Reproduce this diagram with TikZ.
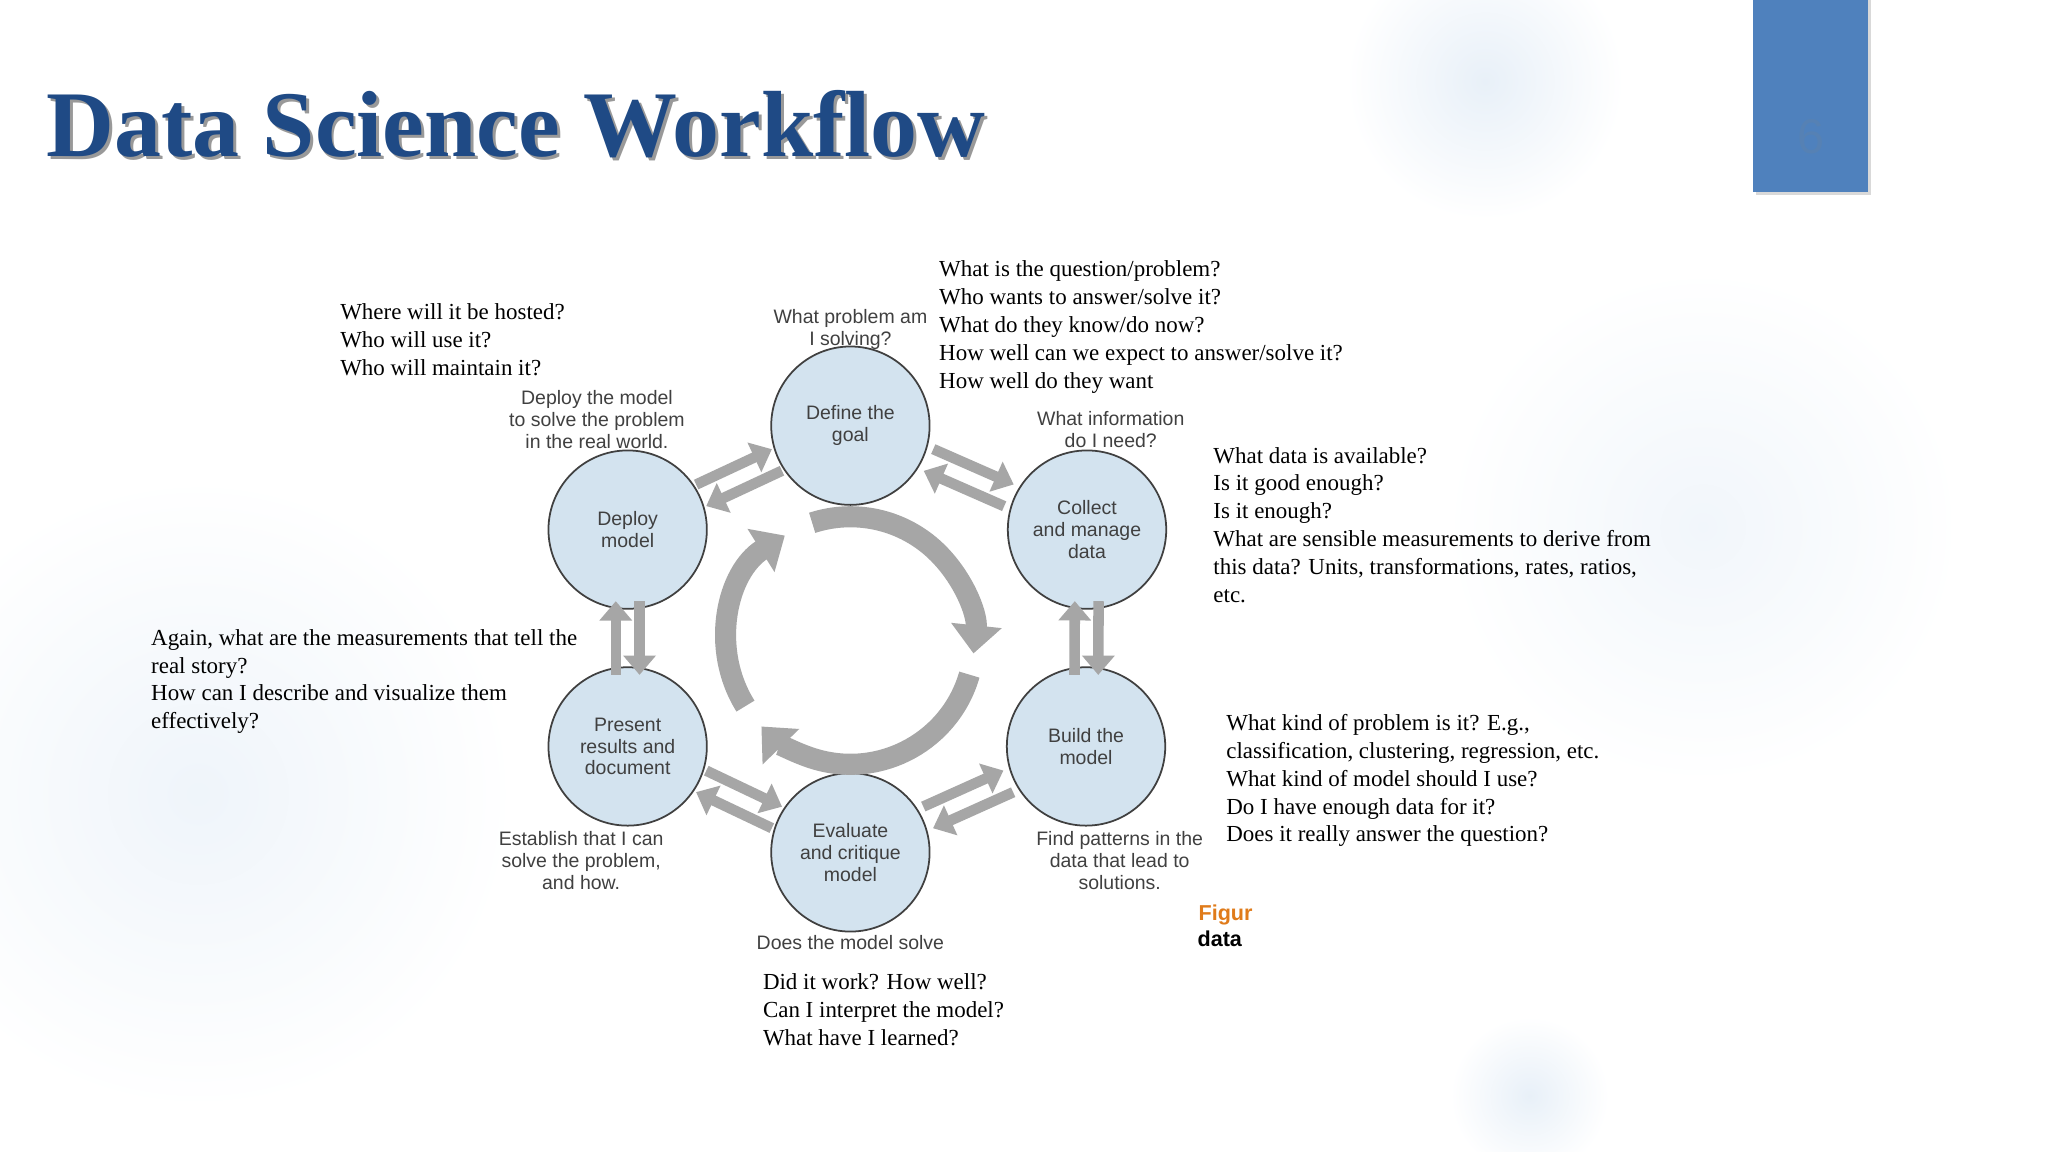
\documentclass[tikz,border=0pt]{standalone}
\usepackage{fontspec}
\setmainfont{Liberation Serif}
\newfontfamily\arialf{Liberation Sans}
\usetikzlibrary{arrows.meta,calc}
\definecolor{titleblue}{HTML}{1F4A85}
\definecolor{boxblue}{HTML}{4F81BD}
\definecolor{circfill}{HTML}{D3E3EF}
\definecolor{ringgray}{HTML}{A6A6A6}
\definecolor{blob}{HTML}{E8F0F8}
\definecolor{figorange}{HTML}{E07B1A}
\tikzset{
  stage/.style={circle,draw=black!75,line width=0.5pt,fill=circfill,minimum size=1.6cm,inner sep=0pt,align=center,font=\arialf\fontsize{5.6}{6.3}\selectfont,text=black!75},
  glabel/.style={align=center,font=\arialf\fontsize{5.6}{6.3}\selectfont,text=black!75},
  note/.style={anchor=north west,align=left,font=\fontsize{6.6}{8}\selectfont,inner sep=0pt},
  darr/.style={draw=ringgray,line width=3pt,-{Triangle[length=5.5pt,width=9pt]}},
  ringarr/.style={draw=ringgray,line width=6pt,-{Triangle[length=8pt,width=14pt]}}
}
\begin{document}
\begin{tikzpicture}
\useasboundingbox (0,0) rectangle (20.48,11.52);
\fill[white] (0,0) rectangle (20.48,11.52);
\begin{scope}[shift={(0,0.1152)},scale=0.99,transform shape]
% faint background blobs
\shade[inner color=blob,outer color=white] (15.0,10.7) circle (1.4);
\shade[inner color=blob!70,outer color=white] (2.0,3.5) circle (3.2);
\shade[inner color=blob!60,outer color=white] (17.2,6.2) circle (2.6);
\shade[inner color=blob,outer color=white] (15.45,0.45) circle (0.8);
% title
\node[anchor=base west,text=black!40,font=\bfseries\fontsize{27}{30}\selectfont,inner sep=0pt] at (0.49,9.91) {Data Science Workflow};
\node[anchor=base west,text=titleblue,font=\bfseries\fontsize{27}{30}\selectfont,inner sep=0pt] (title) at (0.46,9.94) {Data Science Workflow};
% page number box
\fill[black!15] (17.74,9.55) rectangle (18.90,11.52);
\fill[boxblue] (17.71,9.58) rectangle (18.87,11.52);
\node[text=boxblue!85!gray,font=\arialf\fontsize{14}{16}\selectfont] (pg) at (18.29,10.14) {6};
% stages
\node[stage] (g) at (8.59,7.22) {Define the\\goal};
\node[stage] (c) at (10.98,6.17) {Collect\\and manage\\data};
\node[stage] (b) at (10.97,3.98) {Build the\\model};
\node[stage] (e) at (8.59,2.91) {Evaluate\\and critique\\model};
\node[stage] (p) at (6.34,3.98) {Present\\results and\\document};
\node[stage] (d) at (6.34,6.17) {Deploy\\model};
% double arrows
\foreach \a/\b in {g/c,c/b,b/e,e/p,p/d,d/g}{
  \draw[darr] ($(\a)!0.33!(\b)!0.12cm!90:(\b)$) -- ($(\a)!0.67!(\b)!0.12cm!90:(\b)$);
  \draw[darr] ($(\a)!0.67!(\b)!0.12cm!-90:(\b)$) -- ($(\a)!0.33!(\b)!0.12cm!-90:(\b)$);
}
% central ring
\coordinate (rc) at (8.59,5.05);
\draw[ringarr] ($(rc)+(108:1.25)$) arc[start angle=108,end angle=-6,radius=1.25];
\draw[ringarr] ($(rc)+(-16:1.25)$) arc[start angle=-16,end angle=-136,radius=1.25];
\draw[ringarr] ($(rc)+(-148:1.25)$) arc[start angle=212,end angle=122,radius=1.25];
% gray labels
\node[glabel] (lg) at (8.59,8.19) {What problem am\\I solving?};
\node[glabel] (lc) at (11.22,7.18) {What information\\do I need?};
\node[glabel] (ld) at (6.03,7.28) {Deploy the model\\to solve the problem\\in the real world.};
\node[glabel] (lp) at (5.87,2.83) {Establish that I can\\solve the problem,\\and how.};
\node[glabel] (lb) at (11.31,2.83) {Find patterns in the\\data that lead to\\solutions.};
\node[glabel] (le) at (8.59,2.00) {Does the model solve};
\node[font=\arialf\bfseries\fontsize{6.2}{7}\selectfont,text=figorange,anchor=west,inner sep=0pt] (fig) at (12.10,2.28) {Figur};
\node[font=\arialf\bfseries\fontsize{6.2}{7}\selectfont,anchor=west,inner sep=0pt] (fd) at (12.09,2.04) {data};
% notes
\node[note] (n1) at (9.48,8.89) {What is the question/problem?\\Who wants to answer/solve it?\\What do they know/do now?\\How well can we expect to answer/solve it?\\How well do they want};
\node[note] (n2) at (3.43,8.46) {Where will it be hosted?\\Who will use it?\\Who will maintain it?};
\node[note] (n3) at (12.25,7.01) {What data is available?\\Is it good enough?\\Is it enough?\\What are sensible measurements to derive from\\this data? Units, transformations, rates, ratios,\\etc.};
\node[note] (n4) at (1.52,5.17) {Again, what are the measurements that tell the\\real story?\\How can I describe and visualize them\\effectively?};
\node[note] (n5) at (12.38,4.31) {What kind of problem is it? E.g.,\\classification, clustering, regression, etc.\\What kind of model should I use?\\Do I have enough data for it?\\Does it really answer the question?};
\node[note] (n6) at (7.70,1.69) {Did it work? How well?\\Can I interpret the model?\\What have I learned?};
\end{scope}
\end{tikzpicture}
\end{document}
